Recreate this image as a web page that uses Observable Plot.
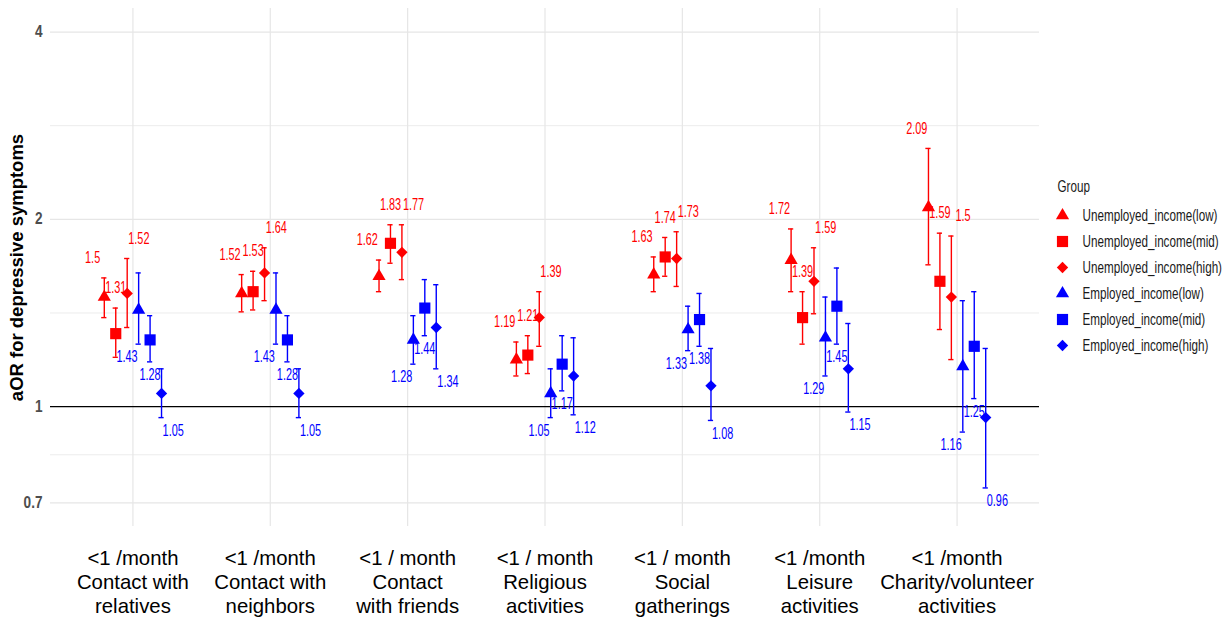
<!DOCTYPE html>
<html><head><meta charset="utf-8">
<script src="https://cdn.jsdelivr.net/npm/d3@7"></script>
<script src="https://cdn.jsdelivr.net/npm/@observablehq/plot@0.6"></script>
<style>
body{margin:0;background:#fff;}
#wrap{position:relative;width:1226px;height:618px;overflow:hidden;}
#chart{position:absolute;left:0;top:0;}
#legend{position:absolute;left:1045px;top:175px;}
svg{overflow:visible;}
</style></head><body><div id="wrap"><div id="chart"></div><div id="legend"></div></div>
<script>
const categories = [
  "<1 /month\nContact with\nrelatives",
  "<1 /month\nContact with\nneighbors",
  "<1 / month\nContact\nwith friends",
  "<1 / month\nReligious\nactivities",
  "<1 / month\nSocial\ngatherings",
  "<1 /month\nLeisure\nactivities",
  "<1 /month\nCharity/volunteer\nactivities"
];
const groups = [
  "Unemployed_income(low)", "Unemployed_income(mid)", "Unemployed_income(high)",
  "Employed_income(low)", "Employed_income(mid)", "Employed_income(high)"
];
// aOR per group (one value per category)
const unempLowOR  = [1.5, 1.52, 1.62, 1.19, 1.63, 1.72, 2.09];
const unempMidOR  = [1.31, 1.53, 1.83, 1.21, 1.74, 1.39, 1.59];
const unempHighOR = [1.52, 1.64, 1.77, 1.39, 1.73, 1.59, 1.5];
const empLowOR    = [1.43, 1.43, 1.28, 1.05, 1.33, 1.29, 1.16];
const empMidOR    = [1.28, 1.28, 1.44, 1.17, 1.38, 1.45, 1.25];
const empHighOR   = [1.05, 1.05, 1.34, 1.12, 1.08, 1.15, 0.96];
// lower CI
const unempLowLo  = [1.39, 1.42, 1.53, 1.12, 1.53, 1.53, 1.69];
const unempMidLo  = [1.20, 1.43, 1.70, 1.13, 1.62, 1.26, 1.33];
const unempHighLo = [1.34, 1.48, 1.60, 1.25, 1.56, 1.41, 1.19];
const empLowLo    = [1.26, 1.26, 1.17, 0.96, 1.23, 1.12, 0.91];
const empMidLo    = [1.18, 1.18, 1.30, 1.06, 1.25, 1.26, 1.03];
const empHighLo   = [0.96, 0.96, 1.15, 0.97, 0.95, 0.98, 0.74];
// upper CI
const unempLowHi  = [1.61, 1.63, 1.72, 1.27, 1.74, 1.93, 2.60];
const unempMidHi  = [1.44, 1.65, 1.96, 1.30, 1.87, 1.53, 1.90];
const unempHighHi = [1.73, 1.80, 1.96, 1.53, 1.91, 1.80, 1.88];
const empLowHi    = [1.64, 1.64, 1.40, 1.15, 1.45, 1.50, 1.48];
const empMidHi    = [1.40, 1.40, 1.60, 1.30, 1.52, 1.67, 1.53];
const empHighHi   = [1.15, 1.15, 1.57, 1.29, 1.24, 1.36, 1.24];
const yTicks = [0.7, 1, 2, 4];

const ORs = [unempLowOR, unempMidOR, unempHighOR, empLowOR, empMidOR, empHighOR];
const LOs = [unempLowLo, unempMidLo, unempHighLo, empLowLo, empMidLo, empHighLo];
const HIs = [unempLowHi, unempMidHi, unempHighHi, empLowHi, empMidHi, empHighHi];

const symbols = ["triangle", "square", "diamond2"];
const colorOf = g => groups.indexOf(g) < 3 ? "#ff0000" : "#0000ff";
const dodgeW = 0.5 / 6;
const rows = [];
groups.forEach((g, j) => categories.forEach((c, i) => {
  rows.push({
    group: g, j, cat: i, income: j % 3, unemployed: j < 3,
    or: ORs[j][i], lo: LOs[j][i], hi: HIs[j][i],
    x: i + (j - 2.5) * dodgeW
  });
}));
const cap = 0.019;
const yMinor = yTicks.slice(1).map((t, k) => Math.sqrt(t * yTicks[k]));
const pad = Math.pow(yTicks[yTicks.length - 1] / yTicks[0], 0.05);
const font = '"Liberation Sans",Arial,sans-serif';

const symbolR = {triangle: 4.9, square: 6.3, diamond2: 5.1};
const dotMarks = symbols.map((s, k) => Plot.dot(rows.filter(d => d.income === k), {
  x: "x", y: "or", symbol: () => s, r: symbolR[s], fill: d => colorOf(d.group), stroke: "none"
}));

const chart = Plot.plot({
  width: 1045, height: 618,
  marginLeft: 50, marginRight: 6, marginTop: 8, marginBottom: 92,
  style: {background: "white", fontFamily: font},
  x: {type: "linear", domain: [-0.6, categories.length - 0.4], axis: null},
  y: {type: "log", domain: [yTicks[0] / pad, yTicks[yTicks.length - 1] * pad], axis: null},
  symbol: {type: "identity"},
  marks: [
    Plot.ruleY(yMinor, {stroke: "#ececec", strokeWidth: 1}),
    Plot.ruleY(yTicks.filter(t => t !== 1), {stroke: "#e6e6e6", strokeWidth: 1.2}),
    Plot.ruleX(categories.map((c, i) => i), {stroke: "#e6e6e6", strokeWidth: 1.2}),
    Plot.ruleY([1], {stroke: "#000", strokeWidth: 1.3}),
    Plot.text(yTicks, {y: d => d, frameAnchor: "left", dx: -8, textAnchor: "end", text: d => String(d),
      fontSize: 16, fontWeight: "bold", fill: "#4d4d4d", ariaDescription: "yticks"}),
    Plot.text(["aOR for depressive symptoms"], {frameAnchor: "left", dx: -33, rotate: -90, textAnchor: "middle",
      fontSize: 18.5, fontWeight: "bold", fill: "#000"}),
    Plot.text(categories, {x: (d, i) => i, frameAnchor: "bottom", lineAnchor: "top", dy: 21, textAnchor: "middle",
      text: d => d, fontSize: 21, lineHeight: 1.15, fill: "#000", ariaDescription: "xlabels"}),
    // error bars
    Plot.ruleX(rows, {x: "x", y1: "lo", y2: "hi", stroke: d => colorOf(d.group), strokeWidth: 1.4}),
    Plot.ruleY(rows, {y: "hi", x1: d => d.x - cap, x2: d => d.x + cap, stroke: d => colorOf(d.group), strokeWidth: 1.4}),
    Plot.ruleY(rows, {y: "lo", x1: d => d.x - cap, x2: d => d.x + cap, stroke: d => colorOf(d.group), strokeWidth: 1.4}),
    ...dotMarks,
    // labels
    Plot.text(rows.filter(d => d.unemployed), {x: d => d.x + (d.income - 1) * 0.085, y: "hi", dy: -20,
      text: d => String(d.or), fill: "#ff0000", fontSize: 16, ariaDescription: "vlabels"}),
    Plot.text(rows.filter(d => !d.unemployed), {x: d => d.x + (d.income - 1) * 0.085, y: "lo", dy: 13,
      text: d => String(d.or), fill: "#0000ff", fontSize: 16, ariaDescription: "vlabels"})
  ]
});
document.getElementById("chart").appendChild(chart);

const legend = Plot.plot({
  width: 178, height: 185, margin: 0,
  style: {background: "transparent", fontFamily: font},
  x: {type: "linear", domain: [0, 178], range: [0, 178], axis: null},
  y: {type: "point", domain: groups, range: [40, 170], padding: 0, axis: null},
  symbol: {type: "identity"},
  marks: [
    Plot.text(["Group"], {frameAnchor: "top-left", dx: 12, dy: 5, lineAnchor: "top", textAnchor: "start",
      text: d => d, fontSize: 16, fill: "#1a1a1a", ariaDescription: "legtext"}),
    ...symbols.map((s, k) => Plot.dot(groups.filter((g, j) => j % 3 === k), {
      y: d => d, frameAnchor: "left", dx: 17, symbol: () => s, r: symbolR[s], fill: colorOf
    })),
    Plot.text(groups, {y: d => d, frameAnchor: "left", dx: 37, textAnchor: "start", text: d => d,
      fontSize: 16, fill: "#1a1a1a", ariaDescription: "legtext"})
  ]
});
document.getElementById("legend").appendChild(legend);

// condense text horizontally (the reference uses narrow lettering)
function condense(root, desc, s) {
  root.querySelectorAll(`g[aria-description="${desc}"] text`).forEach(el => {
    const t = el.getAttribute("transform") || "";
    el.setAttribute("transform", `${t} scale(${s},1)`);
  });
}
condense(chart, "xlabels", 0.97);
condense(chart, "vlabels", 0.68);
condense(chart, "yticks", 0.85);
condense(legend, "legtext", 0.73);
</script></body></html>
